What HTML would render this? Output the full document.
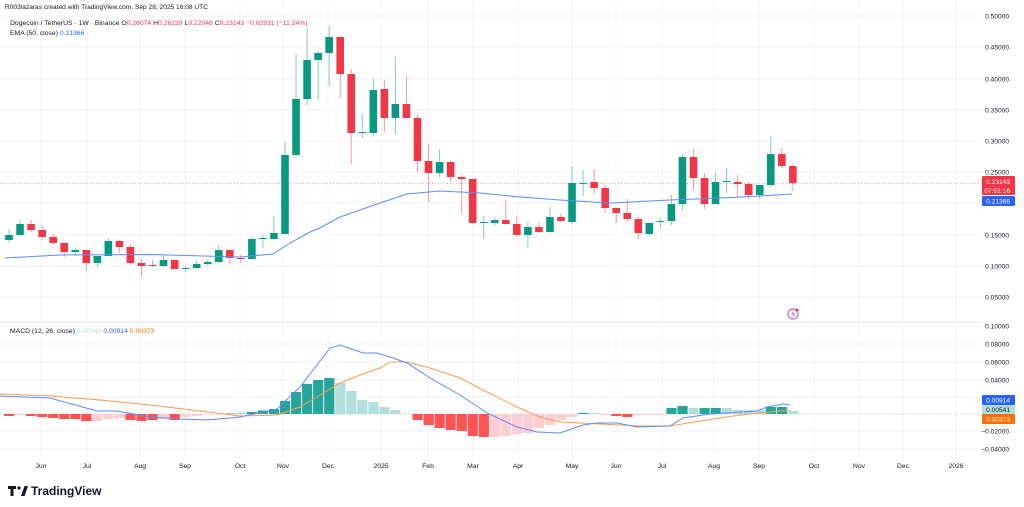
<!DOCTYPE html>
<html><head><meta charset="utf-8"><style>
html,body{margin:0;padding:0;background:#fff;}
svg{display:block;font-family:"Liberation Sans",sans-serif;}
</style></head><body>
<svg id="s" width="1024" height="507" viewBox="0 0 1024 507" xmlns="http://www.w3.org/2000/svg">
<rect width="1024" height="507" fill="#fff"/>
<g id="grid"></g>
<line x1="0" y1="322" x2="982" y2="322" stroke="#e0e3eb" stroke-width="1"/>
<line x1="0" y1="183.5" x2="982" y2="183.5" stroke="#f23645" stroke-width="0.8" stroke-dasharray="1,2" opacity="0.6"/>
<line x1="0" y1="414" x2="982" y2="414" stroke="#d1d4dc" stroke-width="0.8" stroke-dasharray="3,3"/>
<g id="c"></g>
<g id="h"></g>
<polyline fill="none" stroke="#5b8cff" stroke-width="1" points="5,258 60,255 150,254.5 240,257 273,254 290,243 310,232 320,228 340,217 360,210 380,203 407,194 440,191 480,193 520,197 560,200 610,203 670,200 720,198 760,196 792,194"/>
<polyline fill="none" stroke="#ff9a4d" stroke-width="1" points="0,394 50,396 100,400 150,405 200,411 240,416 277,415 300,407 320,395 340,383 360,375 380,368 390,362 407,362 430,368 460,378 487,392 517,407 540,417 560,422 600,424 640,426 670,426 700,421 740,415 790,410"/>
<polyline fill="none" stroke="#5b8cff" stroke-width="1" points="0,396 50,398 97,411 117,411 150,417 180,419 207,420 240,417 277,409 300,387 330,348 340,345 363,353 377,353 390,357 407,363 430,378 460,395 487,413 517,427 537,432 560,433 583,425 597,423 617,423 637,427 670,426 683,418 710,414 757,411 767,407 783,404 790,405"/>
<g id="ax" font-size="6.6" fill="#131722" text-anchor="end"></g>
<g font-size="6.6" fill="#fff" text-anchor="end">
<rect x="982" y="176" width="33" height="19" rx="1" fill="#f23645"/>
<text x="1010" y="184">0.23143</text><text x="1010" y="193">07:51:16</text>
<rect x="982" y="196" width="33" height="10" rx="1" fill="#2962ff"/>
<text x="1010" y="203.5">0.21366</text>
<rect x="982" y="395" width="33" height="10" rx="1" fill="#2962ff"/>
<text x="1010" y="402.5">0.00914</text>
<rect x="982" y="405" width="33" height="9" rx="1" fill="#b2dfdb"/>
<text x="1010" y="412" fill="#131722">0.00541</text>
<rect x="982" y="414" width="33" height="10" rx="1" fill="#ff6d00"/>
<text x="1010" y="421.5">0.00373</text>
</g>
<g font-size="6.8" fill="#131722" text-anchor="middle" id="tx"></g>
<text x="5" y="9" font-size="6.6" fill="#131722">R003lazaras created with TradingView.com, Sep 28, 2025 16:08 UTC</text>
<text x="10" y="25" font-size="6.8" fill="#131722">Dogecoin / TetherUS · 1W · Binance  O<tspan fill="#f23645">0.26074</tspan>  H<tspan fill="#f23645">0.26239</tspan>  L<tspan fill="#f23645">0.22046</tspan>  C<tspan fill="#f23645">0.23143  −0.02931 (−11.24%)</tspan></text>
<text x="10" y="35" font-size="6.8" fill="#131722">EMA (50, close)  <tspan fill="#2962ff">0.21366</tspan></text>
<text x="10" y="333" font-size="6.8" fill="#131722">MACD (12, 26, close)  <tspan fill="#b2dfdb">0.00541</tspan>  <tspan fill="#2962ff">0.00914</tspan>  <tspan fill="#ff6d00">0.00373</tspan></text>
<circle cx="793" cy="314" r="5" fill="none" stroke="#b967e0" stroke-width="1.2"/>
<path d="M794,310.5 L791,314.5 L793.5,314.5 L792.5,317.5 L795.5,313.5 L793,313.5 Z" fill="#b967e0"/>
<circle cx="797" cy="310" r="1.5" fill="#f23645"/>
<g fill="#131722">
<path d="M8,486 h8 v3 h-2.5 v7 h-3 v-7 h-2.5 z"/>
<circle cx="19" cy="488" r="1.6"/>
<path d="M21,496 l3.5,-10 h3.5 l-3.5,10 z"/>
<text x="31" y="495" font-size="12" font-weight="bold">TradingView</text>
</g>
</svg>
<script>
var NS="http://www.w3.org/2000/svg";
function el(p,t,a){var e=document.createElementNS(NS,t);for(var k in a)e.setAttribute(k,a[k]);p.appendChild(e);return e;}
var grid=document.getElementById('grid');
var mx=[41,87,140,185,240,283,328,381,428,473,518,572,616,662,714,759,814,859,903,956];
mx.forEach(function(x){el(grid,'line',{x1:x,y1:0,x2:x,y2:460,stroke:'#f0f3fa','stroke-width':1});});
[16,47,79,110,141,172,203,235,266,297,326,344,362,380,397,414,431,449].forEach(function(y){el(grid,'line',{x1:0,y1:y,x2:982,y2:y,stroke:'#f0f3fa','stroke-width':1});});
var ax=document.getElementById('ax');
[[16,'0.50000'],[47,'0.45000'],[79,'0.40000'],[110,'0.35000'],[141,'0.30000'],[172,'0.25000'],[235,'0.15000'],[266,'0.10000'],[297,'0.05000'],[326,'0.10000'],[344,'0.08000'],[362,'0.06000'],[380,'0.04000'],[431,'−0.02000'],[449,'−0.04000']].forEach(function(a){var t=el(ax,'text',{x:1009,y:a[0]+2.5});t.textContent=a[1];});
var tx=document.getElementById('tx');
var ml=['Jun','Jul','Aug','Sep','Oct','Nov','Dec','2025','Feb','Mar','Apr','May','Jun','Jul','Aug','Sep','Oct','Nov','Dec','2026'];
mx.forEach(function(x,i){var t=el(tx,'text',{x:x,y:468});t.textContent=ml[i];});
var C=[
['g',235,240,229,243],['g',224,235,219,236],['r',224,230,220,232],['r',230,237,225,240],['r',237,243,234,245],['r',243,252,243,257],['g',250,252,248,256],['r',250,263,250,271],['g',256,263,256,267],['g',241,256,238,256],
['r',241,247,240,253],['r',247,263,244,265],['r',263,266,259,277],['r',265,266,260,267],['g',260,266,256,267],['r',260,269,260,269],['g',268,269,266,272],['g',264,268,261,269],['g',262,264,259,266],['g',250,262,245,263],
['r',250,258,250,264],['r',258,259,255,263],['g',239,259,237,259],['g',238,239,235,248],['g',233,239,216,239],['g',155,234,142,234],['g',99,155,54,156],['g',60,99,28,105],['g',53,60,51,100],['g',37,53,26,86],
['r',37,74,36,99],['r',74,133,69,164],['g',132,133,114,138],['g',90,133,79,137],['r',89,118,80,132],['g',104,118,57,134],['r',104,118,76,118],['r',118,161,115,172],['r',161,173,145,202],['g',162,173,149,177],
['r',162,177,160,182],['r',177,179,175,214],['r',179,223,179,224],['g',222,223,216,239],['g',220,223,217,226],['r',220,224,200,224],['r',224,235,216,236],['g',227,235,222,247],['r',227,232,222,233],['g',217,232,207,232],
['r',217,221,213,223],['g',183,222,166,224],['g',183,184,170,196],['r',182,188,169,194],['r',188,208,185,213],['r',208,213,208,223],['r',213,219,199,222],['r',219,233,217,239],['g',223,234,223,235],['g',221,222,218,229],
['g',204,221,195,225],['g',157,204,154,210],['r',157,178,149,190],['r',178,204,173,209],['g',182,204,173,204],['g',181,182,168,193],['r',182,184,175,198],['r',184,195,182,199],['g',185,195,185,199],['g',154,185,136,187],
['r',154,166,148,168],['r',166,183,164,191]];
var H=[[-2,'r'],[-1,'p'],[-2,'r'],[-3,'r'],[-4,'r'],[-5,'r'],[-5,'r'],[-7,'r'],[-7,'p'],[-5,'p'],[-4,'p'],[-6,'r'],[-7,'r'],[-6,'r'],[-5,'p'],[-6,'r'],[-3,'p'],[-2,'p'],[-0.5,'p'],[-0.5,'p'],
[0.5,'g'],[0.5,'g'],[2,'g'],[3.5,'g'],[5,'g'],[13,'g'],[22,'g'],[30,'g'],[34,'g'],[36,'g'],[31,'l'],[23,'l'],[14,'l'],[12,'l'],[7,'l'],[4,'l'],[0.5,'l'],[-6,'r'],[-11,'r'],[-14,'r'],
[-16,'r'],[-17,'r'],[-22,'r'],[-23,'r'],[-23,'p'],[-22,'p'],[-20,'p'],[-19,'p'],[-14,'p'],[-11,'p'],[-6,'p'],[-3,'p'],[1,'g'],[1,'l'],[-1,'p'],[-2,'r'],[-3,'r'],[-1,'p'],[-1,'p'],[-1,'p'],
[6,'g'],[8,'g'],[6,'l'],[6,'g'],[6,'g'],[6,'l'],[4,'l'],[4,'l'],[4,'l'],[7,'g'],[7,'g'],[3,'l']];
var cg=document.getElementById('c'),hg=document.getElementById('h');
var col={g:'#089981',r:'#f23645'};
var hc={g:'#26a69a',l:'#b2dfdb',r:'#ff5252',p:'#ffcdd2'};
for(var i=0;i<C.length;i++){
 var x=9+i*11.04,d=C[i];
 el(cg,'line',{x1:x,y1:d[3],x2:x,y2:d[4],stroke:col[d[0]],'stroke-width':1,opacity:0.5});
 el(cg,'rect',{x:x-3.8,y:d[1],width:7.6,height:Math.max(1,d[2]-d[1]),fill:col[d[0]]});
 var hh=H[i];
 if(hh){var v=hh[0];el(hg,'rect',{x:x-5,y:v>0?414-v:414,width:10.2,height:Math.abs(v),fill:hc[hh[1]]});}
}
</script>
</body></html>
